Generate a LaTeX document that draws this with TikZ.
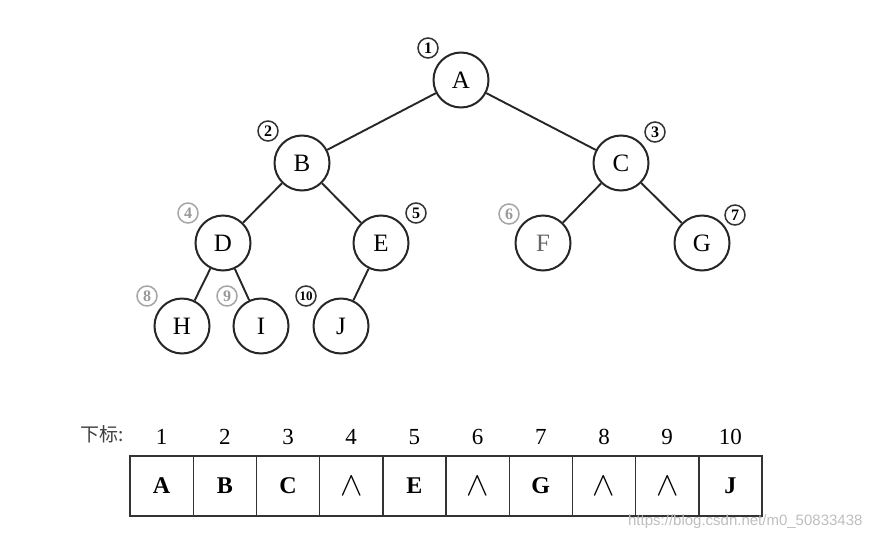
\documentclass[tikz,border=0pt]{standalone}
\usepackage{fontspec}
\usepackage{graphicx}
\setmainfont{Liberation Serif}
\newfontfamily\cjk{Noto Sans CJK SC}
\newfontfamily\wmfont{Liberation Sans}
\begin{document}
\begin{tikzpicture}[x=1pt,y=-1pt,
  tnode/.style={draw=black!85,line width=2pt,circle,minimum size=55pt,inner sep=0pt,font=\fontsize{25}{25}\selectfont},
  cnum/.style={draw=black!80,line width=1.5pt,circle,minimum size=20pt,inner sep=0pt,font=\fontsize{16}{16}\selectfont\bfseries},
  gnum/.style={cnum,draw=black!35,text=black!40},
  edge/.style={line width=1.9pt,draw=black!85},
  cell/.style={draw=black!80,line width=1.4pt,minimum width=63.2pt,minimum height=60pt,inner sep=0pt,font=\fontsize{24}{24}\selectfont\bfseries},
  idx/.style={font=\fontsize{23}{23}\selectfont}
]
\useasboundingbox[fill=white] (0,0) rectangle (874,538);
% tree nodes
\node[tnode] (A) at (461,80) {A};
\node[tnode] (B) at (302,163) {B};
\node[tnode] (C) at (621,163) {C};
\node[tnode] (D) at (223,243) {D};
\node[tnode] (E) at (381,243) {E};
\node[tnode,text=black!60] (F) at (543,243) {F};
\node[tnode] (G) at (702,243) {G};
\node[tnode] (H) at (182,326) {H};
\node[tnode] (I) at (261,326) {I};
\node[tnode] (J) at (341,326) {J};
% edges
\draw[edge] (A) -- (B);
\draw[edge] (A) -- (C);
\draw[edge] (B) -- (D);
\draw[edge] (B) -- (E);
\draw[edge] (C) -- (F);
\draw[edge] (C) -- (G);
\draw[edge] (D) -- (H);
\draw[edge] (D) -- (I);
\draw[edge] (E) -- (J);
% circled numbers
\node[cnum] (n1) at (428,48) {1};
\node[cnum] (n2) at (268,131) {2};
\node[cnum] (n3) at (655,132) {3};
\node[gnum] (n4) at (188,213) {4};
\node[cnum] (n5) at (416,213) {5};
\node[gnum] (n6) at (509,214) {6};
\node[cnum] (n7) at (735,215) {7};
\node[gnum] (n8) at (147,296) {8};
\node[gnum] (n9) at (227,296) {9};
\node[cnum,font=\fontsize{13}{13}\selectfont\bfseries] (n10) at (306,296) {10};
% array
\node[font=\cjk\fontsize{19}{19}\selectfont,text=black!75] (lbl) at (102,434) {下标:};
\foreach \i/\t in {1/A,2/B,3/C,4/\scalebox{1.35}{$\wedge$},5/E,6/\scalebox{1.35}{$\wedge$},7/G,8/\scalebox{1.35}{$\wedge$},9/\scalebox{1.35}{$\wedge$},10/J}{
  \node[cell] (c\i) at ({130+63.2*(\i-0.5)},486) {\t};
  \node[idx] (i\i) at ({130+63.2*(\i-0.5)},437) {\i};
}
% watermark
\node[font=\wmfont\fontsize{15}{15}\selectfont,text=black!25,anchor=east] (wm) at (866,522) {https://blog.csdn.net/m0\_50833438};
\end{tikzpicture}
\end{document}
